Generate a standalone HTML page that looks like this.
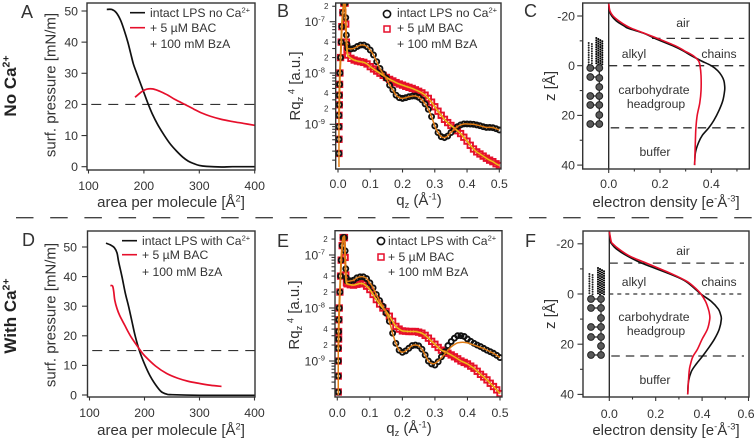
<!DOCTYPE html>
<html lang="en">
<head>
<meta charset="utf-8">
<title>LPS monolayer figure</title>
<style>
html,body{margin:0;padding:0;background:#fff;width:755px;height:442px;overflow:hidden}
svg{display:block;filter:blur(0.3px)}
text{font-family:"Liberation Sans",sans-serif;fill:#333}
</style>
</head>
<body>
<svg id="fig" xmlns="http://www.w3.org/2000/svg" width="755" height="442" viewBox="0 0 755 442">
  <defs id="defs"></defs>
  <g id="root"></g>
</svg>
<script>
/* ---------- Panel A / D isotherm data ---------- */
const areaBlackA = [133,142,150,158,165,171,176,181,186,192,200,208,215,225,237,248,259,270,280,290,300,313,340,360,400];
const pressBlackA = [50.5,50.5,49.5,47,43.5,40,36.5,33,30.5,27.6,23.8,20,17,13.5,10,7.2,5,3.1,1.8,1,0.4,0.1,-0.1,0,0];
const areaRedA = [184,190,197,205,215,225,235,245,255,265,275,290,305,320,340,360,380,400];
const pressRedA = [22.3,23.2,24.2,24.9,25,24.5,23.7,22.8,21.7,20.8,19.9,18.5,17.2,16.2,15.2,14.5,13.9,13.3];
const areaBlackD = [130,138,145,150,153,159,165,171,177,183,190.7,200,210,220,230,240,250,300,400];
const pressBlackD = [51.3,50.7,49.8,48,45,40,34.5,30,25,20,15,10.5,6.5,3.5,1.2,0.3,0.1,-0.1,-0.1];
const areaRedD = [138,142,144,146,150,155,164,175,192,200,220,240,260,280,300,320,340];
const pressRedD = [37,36.8,35,32,29.2,26.8,23.6,19.8,15.2,13.3,9.8,7.3,5.7,4.6,3.9,3.3,2.9];
const pressureTicksA = [0,10,20,30,40,50];
const areaTicks = [100,200,300,400];

/* ---------- Panel B / E reflectivity data (values in units of 1e-9) ---------- */
const qGrid = [0.003,0.003,0.003,0.003,0.004,0.004,0.005,0.006,0.008,0.010,0.012,0.015,0.018,0.020,0.022,0.024,0.026,0.028,
 0.03,0.04,0.05,0.06,0.07,0.08,0.09,0.10,0.11,0.12,0.13,0.14,0.15,0.16,0.17,0.18,0.19,0.20,0.21,0.22,0.23,0.24,0.25,0.26,0.27,0.28,0.29,0.30,0.31,0.32,0.33,0.34,0.35,0.36,0.37,0.38,0.39,0.40,0.41,0.42,0.43,0.44,0.45,0.46,0.47,0.48,0.49,0.50];
const reflBlackB = [0.27,0.51,0.9,1.5,2.4,3.7,6,10,20,40,80,150,230,260,230,120,55,36,
 30.2,29.5,30.2,33,35,35,32.6,28,22.5,16.6,12.3,9.6,7.9,5.8,4.7,3.7,3.3,3.2,3.3,3.46,3.55,3.56,3.36,3.0,2.5,1.96,1.41,0.93,0.69,0.575,0.55,0.59,0.69,0.8,0.9,0.97,1.015,1.015,1.01,1.0,0.97,0.94,0.9,0.87,0.87,0.86,0.82,0.775];
const reflRedB = [0.27,0.51,0.9,1.5,2.4,3.7,6,10,20,40,80,150,230,260,230,90,40,28,
 22.4,19.3,17.9,17.1,16.6,16.1,15,13.3,12,10.9,9.9,9,8.2,7.5,7,6.5,6.1,5.8,5.5,5.25,5,4.7,4.4,4.1,3.7,3.2,2.7,2.2,1.8,1.5,1.25,1.08,0.95,0.85,0.75,0.66,0.56,0.47,0.39,0.33,0.29,0.264,0.24,0.218,0.2,0.187,0.17,0.157];
const reflBlackE = [0.26,0.52,1,1.74,2.6,3.6,6,10,20,40,80,150,213,213,213,120,55,37,
 32,32.5,33.5,37,38.8,38.8,36,29.8,24,17.9,13.8,10.8,8,5.6,3.35,2.16,1.6,1.46,1.55,1.74,1.95,2,1.93,1.67,1.3,1,0.88,0.84,0.97,1.2,1.5,1.95,2.33,2.7,3,3,2.9,2.6,2.35,2.16,2,1.87,1.73,1.6,1.5,1.4,1.28,1.16];
const fitBlackE = [0.26,0.52,1,1.74,2.6,3.6,6,10,20,40,80,150,213,213,213,120,55,37,
 32,32.5,33.5,37,38.8,38.8,36,29.8,24,17.9,13.8,10.8,8,5.6,3.35,2.16,1.6,1.46,1.55,1.74,1.95,2,1.93,1.67,1.3,1,0.9,0.9,1.0,1.15,1.35,1.6,1.85,2.05,2.2,2.25,2.25,2.2,2.1,2.0,1.9,1.8,1.73,1.6,1.5,1.4,1.28,1.16];
const reflRedE = [0.26,0.52,1,1.74,2.6,3.6,6,10,20,40,80,150,213,213,213,90,42,30,
 28.6,27.5,27,28,29,28.6,25.8,22.3,18,14.4,11.9,10,8.6,7,5.6,4.5,4,3.7,3.65,3.6,3.6,3.6,3.5,3.35,3.05,2.7,2.35,2.07,1.8,1.6,1.5,1.4,1.3,1.2,1.1,1,0.94,0.88,0.8,0.73,0.64,0.56,0.5,0.44,0.38,0.33,0.285,0.243];
const qTicks = [0,0.1,0.2,0.3,0.4,0.5];
const decadeExponents = [-7,-8,-9];
const minorMultipliers = [2,3,4,5,6,7,8,9];

/* ---------- Panel C / F electron density data ---------- */
const zBlackC = [-25,-22,-20,-18,-16,-15,-13,-11,-8,-6,-4,-2,0,2,4,6,8,10,14,18,22,25,28,31,35,40];
const rhoBlackC = [0,0.003,0.012,0.03,0.06,0.077,0.138,0.18,0.25,0.29,0.323,0.36,0.40,0.425,0.44,0.449,0.452,0.452,0.445,0.43,0.41,0.39,0.365,0.35,0.338,0.335];
const zRedC = [-25,-22,-20,-18,-16,-15,-13,-11,-8,-6,-4,-2,0,4,10,15,20,25,30,40];
const rhoRedC = [0,0.005,0.017,0.04,0.07,0.09,0.14,0.19,0.26,0.295,0.33,0.35,0.356,0.36,0.36,0.355,0.345,0.34,0.338,0.335];
const zBlackF = [-25,-21,-20,-18,-15,-12.3,-8,-5,0,3,6,8,10,14,18,22,25,28,31,35,40];
const rhoBlackF = [0,0.005,0.01,0.03,0.08,0.14,0.26,0.33,0.395,0.44,0.47,0.479,0.483,0.474,0.453,0.424,0.40,0.374,0.353,0.341,0.338];
const zRedF = [-25,-21,-20,-18,-15,-12.3,-8,-5,-2,0,3,6,8,10,14,18,22,25,28,31,40];
const rhoRedF = [0,0.008,0.015,0.04,0.09,0.16,0.27,0.335,0.375,0.395,0.415,0.427,0.432,0.433,0.423,0.40,0.38,0.36,0.35,0.344,0.338];
const zTicks = [-20,0,20,40];
const rhoTicksC = [0,0.2,0.4];
const rhoTicksF = [0,0.2,0.4,0.6];

const NS = 'http://www.w3.org/2000/svg';
const root = document.getElementById('root');
const defs = document.getElementById('defs');
const INK = '#333';
const RED = '#e60f2b';
function el(tag, attrs, parent){
  const n = document.createElementNS(NS, tag);
  for (const k in attrs) n.setAttribute(k, attrs[k]);
  (parent || root).appendChild(n);
  return n;
}
function rich(node, parts, size){
  parts.forEach(function(p){
    const s = document.createElementNS(NS, 'tspan');
    const kind = p[1] || '';
    s.textContent = p[0];
    let dy = 0;
    if (kind === 'sup') { s.setAttribute('font-size', size * 0.62); dy = -size * 0.38; }
    if (kind === 'sub') { s.setAttribute('font-size', size * 0.62); dy = size * 0.2; }
    const shift = dy - (node._off || 0);
    if (shift !== 0) s.setAttribute('dy', shift);
    node._off = dy;
    node.appendChild(s);
  });
}
function smooth(pts){
  if (!pts.length) return '';
  let d = 'M' + pts[0][0].toFixed(2) + ' ' + pts[0][1].toFixed(2);
  for (let i = 0; i < pts.length - 1; i++) {
    const p0 = pts[Math.max(i - 1, 0)], p1 = pts[i], p2 = pts[i + 1], p3 = pts[Math.min(i + 2, pts.length - 1)];
    const c1x = p1[0] + (p2[0] - p0[0]) / 6, c1y = p1[1] + (p2[1] - p0[1]) / 6;
    const c2x = p2[0] - (p3[0] - p1[0]) / 6, c2y = p2[1] - (p3[1] - p1[1]) / 6;
    d += 'C' + c1x.toFixed(2) + ' ' + c1y.toFixed(2) + ' ' + c2x.toFixed(2) + ' ' + c2y.toFixed(2) + ' ' + p2[0].toFixed(2) + ' ' + p2[1].toFixed(2);
  }
  return d;
}
function linear(d0, d1, r0, r1){ return function(v){ return r0 + (v - d0) * (r1 - r0) / (d1 - d0); }; }

function makePanel(id, box){
  const g = el('g', {});
  
  
  const cp = el('clipPath', {id: 'clip-' + id}, defs);
  el('rect', {x: box.l, y: box.t, width: box.r - box.l, height: box.b - box.t}, cp);
  const plot = el('g', {'clip-path': 'url(#clip-' + id + ')'}, g);
  
  
  return {g: g, plot: plot, box: box};
}
function frame(p){
  const b = p.box;
  const r = el('rect', {x: b.l, y: b.t, width: b.r - b.l, height: b.b - b.t, fill: 'none', stroke: INK, 'stroke-width': 1.4}, p.g);
  
  
}
function xTick(p, x, len){
  const t = el('line', {x1: x, x2: x, y1: p.box.b, y2: p.box.b + len, stroke: INK, 'stroke-width': 1.1}, p.g);
  
  
}
function yTick(p, y, len){
  const t = el('line', {x1: p.box.l - len, x2: p.box.l, y1: y, y2: y, stroke: INK, 'stroke-width': 1.1}, p.g);
  
  
}
function xLabel(p, x, y, s){
  const t = el('text', {x: Math.min(x, 746), y: y, 'text-anchor': 'middle', 'font-size': 12.3}, p.g);
  t.textContent = s;
  
  
}
function yLabel(p, x, y, s){
  const t = el('text', {x: x, y: y + 4.3, 'text-anchor': 'end', 'font-size': 12.3}, p.g);
  t.textContent = s;
  
  
}
function title(p, x, y, parts, rotate, name){
  const a = {x: x, y: y, 'text-anchor': 'middle', 'font-size': 15};
  if (rotate) a.transform = 'rotate(-90 ' + x + ' ' + y + ')';
  const t = el('text', a, p.g);
  rich(t, parts, 15);
  
  
}
function letter(p, x, y, s){
  const t = el('text', {x: x, y: y, 'font-size': 18}, p.g);
  t.textContent = s;
  
  
}
function legendText(p, x, y, parts){
  const t = el('text', {x: x, y: y, 'font-size': 12.2}, p.g);
  rich(t, parts, 12.2);
  
  
}
function curve(parent, pts, color, width, name){
  const c = el('path', {d: smooth(pts), fill: 'none', stroke: color, 'stroke-width': width, 'stroke-linejoin': 'round'}, parent);
  
  
}
function hDash(parent, x1, x2, y, dash, width, name){
  const l = el('line', {x1: x1, x2: x2, y1: y, y2: y, stroke: '#333', 'stroke-width': width, 'stroke-dasharray': dash}, parent);
  
  
}
function zip(a, b, fx, fy){ return a.map(function(v, i){ return [fx(v), fy(b[i])]; }); }

/* ---------- isotherm panels ---------- */
function isotherm(cfg){
  const p = makePanel(cfg.id, cfg.box);
  const X = linear(100, 400, cfg.x100, cfg.x400);
  const Y = linear(0, 50, cfg.y0, cfg.y50);
  hDash(p.plot, X(105), X(400), Y(cfg.dashAt), '10 7', 1.1, 'reference-dashed-line');
  curve(p.plot, zip(cfg.blackX, cfg.blackY, X, Y), '#111', 1.7, 'intact-lps-isotherm');
  curve(p.plot, zip(cfg.redX, cfg.redY, X, Y), RED, 1.7, 'bac-bza-isotherm');
  frame(p);
  areaTicks.forEach(function(v){ xTick(p, X(v), 3.5); xLabel(p, X(v), cfg.xLabelY, String(v)); });
  pressureTicksA.forEach(function(v){ yTick(p, Y(v), 5.5); yLabel(p, cfg.yLabelX, Y(v), String(v)); });
  title(p, 171, cfg.xTitleY, [['area per molecule [Å'], ['2', 'sup'], [']']], false, 'x-axis-title');
  title(p, 55.5, cfg.yTitleY, [['surf. pressure [mN/m]']], true, 'y-axis-title');
  letter(p, cfg.lx, cfg.ly, cfg.id);
  const k1 = el('line', {x1: cfg.keyX1, x2: cfg.keyX2, y1: cfg.leg[0] - 4.3, y2: cfg.leg[0] - 4.3, stroke: '#111', 'stroke-width': 1.6}, p.g);
  
  
  const k2 = el('line', {x1: cfg.keyX1, x2: cfg.keyX2, y1: cfg.leg[1] - 4.3, y2: cfg.leg[1] - 4.3, stroke: RED, 'stroke-width': 1.6}, p.g);
  
  
  legendText(p, cfg.textX, cfg.leg[0], [[cfg.label], ['2+', 'sup']]);
  legendText(p, cfg.textX, cfg.leg[1], [['+ 5 µM BAC']]);
  legendText(p, cfg.textX, cfg.leg[2], [['+ 100 mM BzA']]);
}

/* ---------- reflectivity panels ---------- */
function reflectivity(cfg){
  const p = makePanel(cfg.id, cfg.box);
  const X = linear(0, 0.5, cfg.x0, cfg.x5);
  const Y = function(v){ return cfg.yE9 - (Math.log10(v)) * cfg.decade; };
  qGrid.forEach(function(q, i){
    const s = 5.4;
    const m = el('rect', {x: X(q) - s / 2, y: Y(cfg.red[i]) - s / 2, width: s, height: s, fill: 'none', stroke: RED, 'stroke-width': 1.9}, p.plot);
    
    
  });
  qGrid.forEach(function(q, i){
    const m = el('circle', {cx: X(q), cy: Y(cfg.black[i]), r: 2.5, fill: 'none', stroke: '#111', 'stroke-width': 1.9}, p.plot);
    
    
  });
  const fitR = qGrid.map(function(q, i){ return [X(q), Y(cfg.red[i])]; }).slice(3);
  const fitK = qGrid.map(function(q, i){ return [X(q), Y(cfg.fit[i])]; }).slice(3);
  fitK.unshift([X(0.003), cfg.box.b - 2]);
  curve(p.plot, fitR, '#e07c14', 2, 'bac-bza-fit-line');
  curve(p.plot, fitR, '#f6cf1e', 0.8, 'bac-bza-fit-core');
  curve(p.plot, fitK, '#e07c14', 1.5, 'intact-lps-fit-line');
  frame(p);
  qTicks.forEach(function(v){ xTick(p, X(v), 3.5); xLabel(p, X(v), cfg.xLabelY, v.toFixed(1)); });
  decadeExponents.forEach(function(e){
    const y = Y(Math.pow(10, e + 9));
    yTick(p, y, 6);
    const t = el('text', {x: cfg.expX, y: y + 4.3, 'text-anchor': 'end', 'font-size': 12.3}, p.g);
    rich(t, [['10'], [String(e), 'sup']], 12.3);
    
    
  });
  [-7,-8,-9,-10].forEach(function(e){
    minorMultipliers.forEach(function(mult){
      const v = mult * Math.pow(10, e + 9);
      const y = Y(v);
      if (y < cfg.box.t || y > cfg.box.b) return;
      yTick(p, y, 3.5);
      if ((mult === 2 || mult === 4) && e !== -10) {
        const t = el('text', {x: cfg.box.l - 9.5, y: y + 2.8, 'text-anchor': 'middle', 'font-size': 8}, p.g);
        t.textContent = String(mult);
        
        
      }
    });
  });
  title(p, cfg.xTitleX, cfg.xTitleY, [['q'], ['z', 'sub'], [' (Å'], ['-1', 'sup'], [')']], false, 'x-axis-title');
  title(p, cfg.yTitleX, cfg.yTitleY, [['Rq'], ['z', 'sub'], [' 4', 'sup'], [' [a.u.]']], true, 'y-axis-title');
  letter(p, cfg.lx, cfg.ly, cfg.id);
  const c = el('circle', {cx: cfg.keyX, cy: cfg.keyY[0], r: 3.6, fill: 'none', stroke: '#111', 'stroke-width': 1.6}, p.g);
  
  
  const r = el('rect', {x: cfg.keyX - 3, y: cfg.keyY[1] - 3, width: 6, height: 6, fill: 'none', stroke: RED, 'stroke-width': 1.5}, p.g);
  
  
  legendText(p, cfg.textX, cfg.leg[0], [[cfg.label], ['2+', 'sup']]);
  legendText(p, cfg.textX, cfg.leg[1], [['+ 5 µM BAC']]);
  legendText(p, cfg.textX, cfg.leg[2], [['+ 100 mM BzA']]);
}

/* ---------- density panels ---------- */
function density(cfg){
  const p = makePanel(cfg.id, cfg.box);
  const X = linear(0, 0.2, cfg.x0, cfg.x02);
  const Y = linear(0, 20, cfg.z0, cfg.z20);
  const base = el('line', {x1: X(0), x2: X(0), y1: cfg.box.t, y2: cfg.box.b, stroke: '#222', 'stroke-width': 1.3}, p.plot);
  
  
  cfg.cartoon(p);
  hDash(p.plot, cfg.dash1X, cfg.box.r - 5, Y(cfg.dash1), '8.5 6', 1.3, 'air-alkyl-boundary');
  hDash(p.plot, X(0), cfg.box.r - 5, Y(0), cfg.zeroDash, 1.3, 'alkyl-headgroup-boundary');
  hDash(p.plot, X(0) + 2, cfg.box.r - 5, Y(cfg.dash2), '8.5 6', 1.3, 'headgroup-buffer-boundary');
  curve(p.plot, zip(cfg.rhoK, cfg.zK, X, Y), '#111', 1.6, 'intact-lps-density');
  curve(p.plot, zip(cfg.rhoR, cfg.zR, X, Y), RED, 1.6, 'bac-bza-density');
  frame(p);
  cfg.rhoTicks.forEach(function(v){ xTick(p, X(v), 4); xLabel(p, X(v), cfg.xLabelY, v.toFixed(1)); });
  cfg.rhoMinor.forEach(function(v){ xTick(p, X(v), 2.5); });
  zTicks.forEach(function(v){ yTick(p, Y(v), 5.5); yLabel(p, cfg.yLabelX, Y(v), String(v)); });
  [-10,10,30].forEach(function(v){ yTick(p, Y(v), 3); });
  title(p, 666, cfg.xTitleY, [['electron density [e'], ['-', 'sup'], ['Å'], ['-3', 'sup'], [']']], false, 'x-axis-title');
  title(p, 555, cfg.yTitleY, [['z [Å]']], true, 'y-axis-title');
  letter(p, cfg.lx, cfg.ly, cfg.id);
  cfg.regions.forEach(function(r){
    const t = el('text', {x: r[1], y: r[2], 'text-anchor': 'middle', 'font-size': 12.2}, p.g);
    t.textContent = r[0];
    
    
  });
}
function cartoon(p, chainY, leftX, rightX, leftYs, rightYs){
  const g = el('g', {}, p.plot);
  
  
  [-1.6, 1.6].forEach(function(dx, i){
    const c = el('line', {x1: leftX + dx, x2: leftX + dx, y1: chainY[0] + i * 1, y2: chainY[2], stroke: '#222', 'stroke-width': 2, 'stroke-linecap': 'round', 'stroke-dasharray': '0 2.4'}, g);
    
    
  });
  [-3, -1, 1, 3].forEach(function(dx, i){
    const c = el('line', {x1: rightX + dx, x2: rightX + dx, y1: chainY[1] + i * 1.1, y2: chainY[2], stroke: '#000', 'stroke-width': 2.1, 'stroke-linecap': 'round', 'stroke-dasharray': '0 2.3'}, g);
    
    
  });
  const link = el('path', {fill: 'none', stroke: '#222', 'stroke-width': 1.2,
    d: 'M' + rightX + ' ' + rightYs[0] + 'V' + rightYs[rightYs.length - 1] +
       leftYs.map(function(y){ return 'M' + leftX + ' ' + y + 'H' + rightX; }).join('')}, g);
  
  
  leftYs.concat([]).forEach(function(y){
    const c = el('circle', {cx: leftX, cy: y, r: 3.4, fill: '#595959', stroke: '#222', 'stroke-width': 1}, g);
    
    
  });
  rightYs.forEach(function(y){
    const c = el('circle', {cx: rightX, cy: y, r: 3.4, fill: '#595959', stroke: '#222', 'stroke-width': 1}, g);
    
    
  });
}

isotherm({id:'A', box:{l:87,r:255,t:3,b:170}, x100:88.5, x400:254.7, y0:166.7, y50:11, dashAt:20,
  blackX:areaBlackA, blackY:pressBlackA, redX:areaRedA, redY:pressRedA, xLabelY:190, yLabelX:78, xTitleY:207, yTitleY:85,
  lx:21, ly:18, keyX1:130, keyX2:145, textX:150, leg:[17,32,48], label:'intact LPS no Ca'});
isotherm({id:'D', box:{l:87.5,r:255,t:231,b:397}, x100:89.5, x400:254.5, y0:395, y50:247, dashAt:15,
  blackX:areaBlackD, blackY:pressBlackD, redX:areaRedD, redY:pressRedD, xLabelY:417, yLabelX:77, xTitleY:435, yTitleY:315,
  lx:22, ly:246, keyX1:122, keyX2:137, textX:142, leg:[245,259,276], label:'intact LPS with Ca'});
reflectivity({id:'B', box:{l:335.7,r:501,t:3,b:169}, x0:338, x5:499.3, yE9:124.3, decade:51.3,
  black:reflBlackB, red:reflRedB, fit:reflBlackB, xLabelY:188, expX:325, xTitleX:419, xTitleY:205, yTitleX:300, yTitleY:86,
  lx:277, ly:17, keyX:387, keyY:[14,29], textX:397, leg:[17,32,48], label:'intact LPS no Ca'});
reflectivity({id:'E', box:{l:335,r:502,t:230.7,b:397}, x0:337.3, x5:500, yE9:361, decade:53,
  black:reflBlackE, red:reflRedE, fit:fitBlackE, xLabelY:417, expX:325, xTitleX:409, xTitleY:433, yTitleX:299, yTitleY:315,
  lx:277, ly:247, keyX:381, keyY:[241,257], textX:388, leg:[245,261,276], label:'intact LPS with Ca'});
density({id:'C', box:{l:582.7,r:749.3,t:3,b:169}, x0:608.7, x02:660, z0:65.7, z20:115.4, dash1:-11, dash2:25, dash1X:652, zeroDash:'8.5 6',
  rhoK:rhoBlackC, zK:zBlackC, rhoR:rhoRedC, zR:zRedC, rhoTicks:rhoTicksC, rhoMinor:[0.1,0.3,0.5], xLabelY:188, yLabelX:575, xTitleY:207, yTitleY:86,
  lx:524, ly:17,
  regions:[['air',683,27],['alkyl',634,58],['chains',719,58],['carbohydrate',654,94],['headgroup',656,108],['buffer',655,156]],
  cartoon:function(p){ cartoon(p,[43,38,65],590.3,599.3,[68,77,96,105,124],[68,78,87,96,105,115,124]); }});
density({id:'F', box:{l:583,r:749,t:231,b:397}, x0:609.3, x02:655.7, z0:294, z20:344.2, dash1:-12.3, dash2:24.7, dash1X:609.3, zeroDash:'4 4',
  rhoK:rhoBlackF, zK:zBlackF, rhoR:rhoRedF, zR:zRedF, rhoTicks:rhoTicksF, rhoMinor:[0.1,0.3,0.5], xLabelY:418, yLabelX:574, xTitleY:435, yTitleY:314,
  lx:525, ly:247,
  regions:[['air',683,255],['alkyl',634,286],['chains',719,286],['carbohydrate',654,321],['headgroup',656,335],['buffer',655,384]],
  cartoon:function(p){ cartoon(p,[274,268,295],591,601,[299,308,327,337,355],[299,308,318,327,337,346,355]); }});

/* ---------- row labels and divider ---------- */
const rowA = el('text', {x: 16, y: 86, 'text-anchor': 'middle', 'font-size': 17, 'font-weight': 'bold', transform: 'rotate(-90 16 86)', style: 'fill:#222'});
rich(rowA, [['No Ca'], ['2+', 'sup']], 17);


const rowB = el('text', {x: 16, y: 316, 'text-anchor': 'middle', 'font-size': 17, 'font-weight': 'bold', transform: 'rotate(-90 16 316)', style: 'fill:#222'});
rich(rowB, [['With Ca'], ['2+', 'sup']], 17);


const divider = el('line', {x1: 16, x2: 755, y1: 217.7, y2: 217.7, stroke: '#444', 'stroke-width': 1.3, 'stroke-dasharray': '17.5 16.7'});


</script>
</body>
</html>
